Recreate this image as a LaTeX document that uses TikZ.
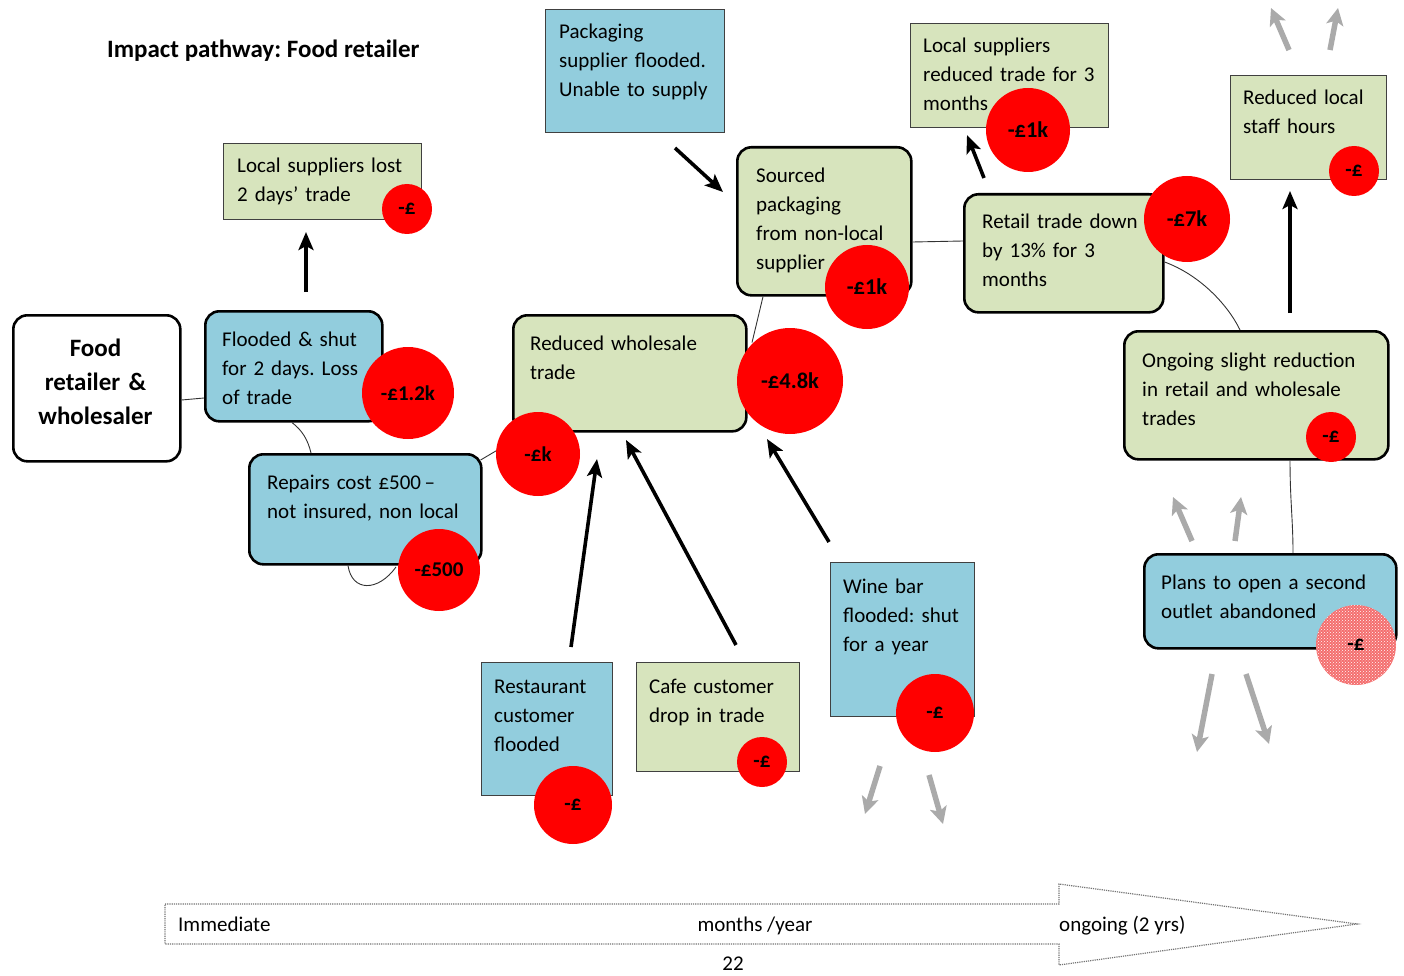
\documentclass[tikz,border=0pt]{standalone}
\usepackage{fontspec}
\setmainfont{Carlito}
\usetikzlibrary{arrows.meta,calc,patterns}
\definecolor{bluef}{RGB}{146,205,221}
\definecolor{greenf}{RGB}{215,228,189}
\definecolor{gry}{RGB}{170,170,170}
\definecolor{pinkf}{RGB}{244,110,110}
\frenchspacing
\begin{document}
\begin{tikzpicture}[x=1pt,y=-1pt,
  rbox/.style={draw=black, line width=2.6pt, rounded corners=14pt, anchor=north west, inner sep=0pt},
  sbox/.style={draw=black!75, line width=0.9pt, anchor=north west, inner sep=0pt},
  txt/.style={anchor=base west, inner sep=0pt, text width=320pt, align=left, font=\fontsize{21}{29}\selectfont},
  loss/.style={circle, fill=red, inner sep=0pt, font=\bfseries\fontsize{21}{22}\selectfont},
  bigloss/.style={loss, font=\bfseries\fontsize{22.5}{24}\selectfont},
  conn/.style={draw=black!80, line width=0.9pt},
  arr/.style={line width=3.6pt, -{Stealth[length=18pt,width=15pt,inset=4pt]}},
  garr/.style={draw=gry, line width=5.5pt, -{Stealth[length=17pt,width=17pt,inset=4pt]}},
  tl/.style={anchor=base, inner sep=0pt, font=\fontsize{21}{25}\selectfont}
]
\useasboundingbox (0,0) rectangle (1404,976);

% title
\node[anchor=base west, inner sep=0pt, font=\bfseries\fontsize{25}{28}\selectfont] (title) at (107,58) {Impact pathway: Food retailer};

% boxes
\node[rbox, fill=white, minimum width=167pt, minimum height=146pt] (b1) at (12,314) {};
\node[anchor=base, inner sep=0pt, text width=160pt, align=center, font=\bfseries\fontsize{25}{34}\selectfont] (t1) at (95.5,356) {Food\\retailer \&\\wholesaler};

\node[rbox, fill=bluef, minimum width=177pt, minimum height=110pt] (b2) at (204,310) {};
\node[txt] (t2) at (222,346) {Flooded \& shut\\for 2 days. Loss\\of trade};

\node[rbox, fill=bluef, minimum width=232pt, minimum height=110pt] (b3) at (248,453) {};
\node[txt] (t3) at (267,489) {Repairs cost £500\,–\\not insured, non local};

\node[sbox, fill=greenf, minimum width=198pt, minimum height=76pt] (b4) at (223,143) {};
\node[txt] (t4) at (237,173) {Local suppliers lost\\2 days’ trade};

\node[rbox, fill=greenf, minimum width=233pt, minimum height=116pt] (b5) at (512,314) {};
\node[txt] (t5) at (530,350) {Reduced wholesale\\trade};

\node[sbox, fill=bluef, minimum width=179pt, minimum height=123pt] (b6) at (545,9) {};
\node[txt] (t6) at (559,39) {Packaging\\supplier flooded.\\Unable to supply};

\node[rbox, fill=greenf, minimum width=174pt, minimum height=148pt] (b7) at (736,146) {};
\node[txt] (t7) at (756,183) {Sourced\\packaging\\from non-local\\supplier};

\node[sbox, fill=greenf, minimum width=198pt, minimum height=104pt] (b8) at (910,23) {};
\node[txt] (t8) at (923,53) {Local suppliers\\reduced trade for 3\\months};

\node[rbox, fill=greenf, minimum width=199pt, minimum height=118pt] (b9) at (963,193) {};
\node[txt] (t9) at (982,229) {Retail trade down\\by 13\% for 3\\months};

\node[sbox, fill=greenf, minimum width=156pt, minimum height=104pt] (b10) at (1230,75) {};
\node[txt] (t10) at (1243,105) {Reduced local\\staff hours};

\node[rbox, fill=greenf, minimum width=264pt, minimum height=128pt] (b11) at (1123,330) {};
\node[txt] (t11) at (1142,367) {Ongoing slight reduction\\in retail and wholesale\\trades};

\node[rbox, fill=bluef, minimum width=252pt, minimum height=94pt] (b12) at (1143,553) {};
\node[txt] (t12) at (1161,589) {Plans to open a second\\outlet abandoned};

\node[sbox, fill=bluef, minimum width=131pt, minimum height=133pt] (b13) at (481,662) {};
\node[txt] (t13) at (494,693) {Restaurant\\customer\\flooded};

\node[sbox, fill=greenf, minimum width=163pt, minimum height=109pt] (b14) at (636,662) {};
\node[txt] (t14) at (649,693) {Cafe customer\\drop in trade};

\node[sbox, fill=bluef, minimum width=144pt, minimum height=154pt] (b15) at (830,562) {};
\node[txt] (t15) at (843,593) {Wine bar\\flooded: shut\\for a year};

% thin connectors
\draw[conn] ($(b1.north east)+(0,86)$) -- ($(b2.north west)+(0,88)$);
\draw[conn] ($(b2.south west)+(88,0)$) .. controls (302,430) and (308,440) .. ($(b3.north west)+(63,0)$);
\draw[conn] ($(b3.north east)+(-2,7)$) -- ($(b3.north east)+(20,-6)$);
\draw[conn] ($(b7.south west)+(27,0)$) -- ($(b7.south west)+(16,46)$);
\draw[conn] ($(b7.north east)+(0,96)$) -- ($(b9.north west)+(0,48)$);
\draw[conn] ($(b9.north east)+(0,69)$) .. controls (1200,275) and (1228,305) .. ($(b11.north west)+(117,0)$);
\draw[conn] ($(b11.south west)+(167,0)$) .. controls (1290,500) and (1293,520) .. ($(b12.north west)+(150,0)$);

% loss circles
\node[loss, minimum size=50pt] (c4) at (407,209) {-£};
\node[loss, minimum size=92pt] (c2) at (408,393) {-£1.2k};
\draw[conn] ($(b3.south west)+(100,0)$) .. controls (352,592) and (378,592) .. (396,567);
\node[loss, minimum size=82pt] (c3) at (439,570) {-£500};
\node[loss, minimum size=84pt] (c5) at (538,454) {-£k};
\node[bigloss, minimum size=106pt] (c5b) at (790,381) {-£4.8k};
\node[bigloss, minimum size=84pt] (c7) at (867,287) {-£1k};
\node[bigloss, minimum size=84pt] (c8) at (1028,130) {-£1k};
\node[bigloss, minimum size=86pt] (c9) at (1187,219) {-£7k};
\node[loss, minimum size=50pt] (c10) at (1354,171) {-£};
\node[loss, minimum size=50pt] (c11) at (1331,437) {-£};
\node[loss, fill=none, preaction={fill=pinkf}, pattern=crosshatch dots, pattern color=white!90!pink, minimum size=80pt] (c12) at (1356,645) {-£};
\node[loss, minimum size=78pt] (c13) at (573,805) {-£};
\node[loss, minimum size=50pt] (c14) at (762,762) {-£};
\node[loss, minimum size=78pt] (c15) at (935,713) {-£};

% black arrows
\coordinate (a1s) at (306,292); \coordinate (a1e) at (306,232);
\coordinate (a2s) at (675,148); \coordinate (a2e) at (723,192);
\coordinate (a3s) at (984,178); \coordinate (a3e) at (967,135);
\coordinate (a4s) at (1290,313); \coordinate (a4e) at (1290,191);
\coordinate (a5s) at (571,647); \coordinate (a5e) at (597,459);
\coordinate (a6s) at (736,645); \coordinate (a6e) at (626,440);
\coordinate (a7s) at (829,542); \coordinate (a7e) at (767,439);
\foreach \i in {1,...,7} {\draw[arr] (a\i s) -- (a\i e);}

% grey arrows
\coordinate (g1s) at (1289,50); \coordinate (g1e) at (1271,8);
\coordinate (g2s) at (1330,50); \coordinate (g2e) at (1338,8);
\coordinate (g3s) at (1192,541); \coordinate (g3e) at (1173,497);
\coordinate (g4s) at (1235,541); \coordinate (g4e) at (1241,497);
\coordinate (g5s) at (1212,674); \coordinate (g5e) at (1197,752);
\coordinate (g6s) at (1246,674); \coordinate (g6e) at (1269,744);
\coordinate (g7s) at (880,766); \coordinate (g7e) at (865,814);
\coordinate (g8s) at (929,775); \coordinate (g8e) at (943,824);
\foreach \i in {1,...,8} {\draw[garr] (g\i s) -- (g\i e);}

% timeline
\draw[draw=black!55, line width=1.2pt, densely dotted] (165,904) -- (1059,904) -- (1059,884) -- (1357,924) -- (1059,965) -- (1059,944) -- (165,944) -- cycle;
\node[tl, anchor=base west] (tl1) at (178,931) {Immediate};
\node[tl] (tl2) at (755,931) {months /year};
\node[tl, anchor=base west] (tl3) at (1059,931) {ongoing (2 yrs)};
\node[tl] (pg) at (733,970) {22};
\end{tikzpicture}
\end{document}
